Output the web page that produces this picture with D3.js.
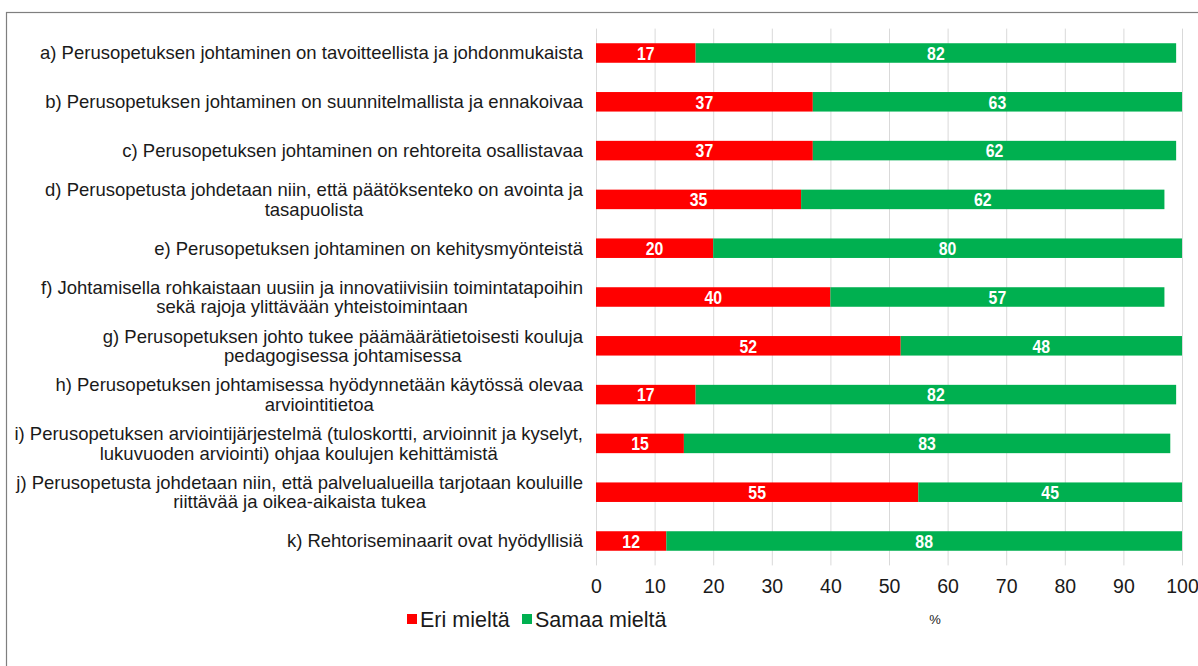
<!DOCTYPE html>
<html>
<head>
<meta charset="utf-8">
<script src="https://cdn.jsdelivr.net/npm/d3@7"></script>
<style>
  body { margin: 0; background: #fff; }
  svg { font-family: "Liberation Sans", Arial, sans-serif; }
</style>
</head>
<body>
<div id="chart"></div>
<script>
// categories (line breaks as in the original figure)
var categories = [
    "a) Perusopetuksen johtaminen on tavoitteellista ja johdonmukaista",
    "b) Perusopetuksen johtaminen on suunnitelmallista ja ennakoivaa",
    "c) Perusopetuksen johtaminen on rehtoreita osallistavaa",
    "d) Perusopetusta johdetaan niin, että päätöksenteko on avointa ja\ntasapuolista",
    "e) Perusopetuksen johtaminen on kehitysmyönteistä",
    "f) Johtamisella rohkaistaan uusiin ja innovatiivisiin toimintatapoihin\nsekä rajoja ylittävään yhteistoimintaan",
    "g) Perusopetuksen johto tukee päämäärätietoisesti kouluja\npedagogisessa johtamisessa",
    "h) Perusopetuksen johtamisessa hyödynnetään käytössä olevaa\narviointitietoa",
    "i) Perusopetuksen arviointijärjestelmä (tuloskortti, arvioinnit ja kyselyt,\nlukuvuoden arviointi) ohjaa koulujen kehittämistä",
    "j) Perusopetusta johdetaan niin, että palvelualueilla tarjotaan kouluille\nriittävää ja oikea-aikaista tukea",
    "k) Rehtoriseminaarit ovat hyödyllisiä"
];
var eriMielta = [17, 37, 37, 35, 20, 40, 52, 17, 15, 55, 12];
var samaaMielta = [82, 63, 62, 62, 80, 57, 48, 82, 83, 45, 88];
var seriesNames = ["Eri mieltä", "Samaa mieltä"];
var xTicks = [0, 10, 20, 30, 40, 50, 60, 70, 80, 90, 100];

var red = "#ff0000";
var green = "#00b050";
var textColor = "#1a1a1a";

var W = 1198, H = 666;
var svg = d3.select("#chart").append("svg").attr("width", W).attr("height", H);

// outer frame (runs off the right and bottom like the original)
svg.append("rect")
    .attr("x", 6.5).attr("y", 12.5)
    .attr("width", W + 20).attr("height", H + 20)
    .attr("fill", "none").attr("stroke", "#7f7f7f").attr("stroke-width", 1.2);

var x = d3.scaleLinear().domain([0, 100]).range([596, 1182]);
var y = d3.scaleBand().domain(categories).range([28.6, 565.4])
    .paddingInner(0.6).paddingOuter(0.3);

// gridlines
svg.append("g").selectAll("line").data(xTicks).enter().append("line")
    .attr("x1", function(d){ return x(d) + 0.5; })
    .attr("x2", function(d){ return x(d) + 0.5; })
    .attr("y1", 28.6).attr("y2", 565.4)
    .attr("stroke", "#d9d9d9").attr("stroke-width", 1);

// x axis labels
var xAxis = svg.append("g")
    .attr("transform", "translate(0,586)")
    .call(d3.axisBottom(x).tickValues(xTicks).tickSize(0).tickPadding(0));
xAxis.select(".domain").remove();
xAxis.selectAll("text")
    .attr("dy", "0.35em")
    .style("font-family", "'Liberation Sans', Arial, sans-serif")
    .style("font-size", "19.5px")
    .attr("fill", textColor);

// stacked data
var rows = categories.map(function(c, i){
    return {cat: c, parts: [
        {name: seriesNames[0], x0: 0, x1: eriMielta[i], v: eriMielta[i], color: red},
        {name: seriesNames[1], x0: eriMielta[i], x1: eriMielta[i] + samaaMielta[i], v: samaaMielta[i], color: green}
    ]};
});

var rowG = svg.append("g").selectAll("g").data(rows).enter().append("g")
    .attr("transform", function(d){ return "translate(0," + y(d.cat) + ")"; });

rowG.selectAll("rect").data(function(d){ return d.parts; }).enter().append("rect")
    .attr("x", function(d){ return x(d.x0); })
    .attr("width", function(d){ return x(d.x1) - x(d.x0); })
    .attr("height", y.bandwidth())
    .attr("fill", function(d){ return d.color; });

// value labels, condensed bold; squeeze if no narrow face is installed
var valLabels = rowG.selectAll("text").data(function(d){ return d.parts; }).enter().append("text")
    .attr("dy", "0.36em")
    .attr("text-anchor", "middle")
    .style("font-family", "'Liberation Sans Narrow', 'Arial Narrow', 'Liberation Sans', sans-serif")
    .style("font-weight", "bold")
    .style("font-size", "19px")
    .attr("fill", "#fff")
    .text(function(d){ return d.v; });
var w82 = valLabels.filter(function(d){ return d.v === 82; }).node().getComputedTextLength();
var squeeze = w82 > 19.5 ? 17.6 / w82 : 1;
valLabels.attr("transform", function(d){
    var cx = (x(d.x0) + x(d.x1)) / 2;
    return "translate(" + cx + "," + (y.bandwidth() / 2) + ") scale(" + squeeze + ",1)";
});

// category labels: block right-aligned, lines centred inside the block
var labelRight = 583;
var lineH = 19.5;
svg.append("g").selectAll("g").data(categories).enter().append("g")
    .each(function(c){
        var g = d3.select(this);
        var lines = c.split("\n");
        var cy = y(c) + y.bandwidth() / 2;
        var texts = lines.map(function(l, i){
            return g.append("text")
                .attr("y", cy + (i - (lines.length - 1) / 2) * lineH)
                .attr("dy", "0.35em")
                .style("font-size", "18.5px")
                .attr("fill", textColor)
                .attr("text-anchor", "middle")
                .text(l);
        });
        var maxW = d3.max(texts, function(t){ return t.node().getComputedTextLength(); });
        texts.forEach(function(t){ t.attr("x", labelRight - maxW / 2); });
    });

// legend
var legend = svg.append("g").attr("transform", "translate(407,619)");
var legX = [0, 115];
seriesNames.forEach(function(n, i){
    legend.append("rect").attr("x", legX[i]).attr("y", -5).attr("width", 10).attr("height", 10)
        .attr("fill", i === 0 ? red : green);
    legend.append("text").attr("x", legX[i] + 13).attr("y", 0).attr("dy", "0.35em")
        .style("font-size", "21.5px").attr("fill", textColor).text(n);
});

svg.append("text").attr("x", 935).attr("y", 619).attr("dy", "0.35em")
    .attr("text-anchor", "middle").style("font-size", "13px").attr("fill", textColor).text("%");
</script>
</body>
</html>
